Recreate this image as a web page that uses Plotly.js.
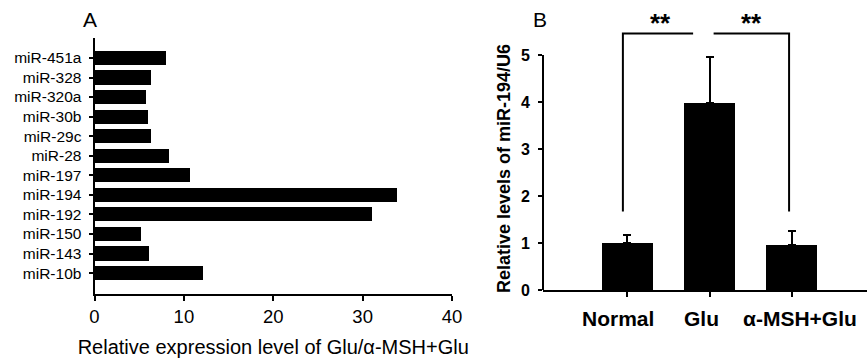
<!DOCTYPE html>
<html><head><meta charset="utf-8">
<script src="https://cdn.plot.ly/plotly-3.0.1.min.js"></script>
<style>html,body{margin:0;padding:0;background:#fff}#chart{width:867px;height:362px}</style>
</head><body><div id="chart"></div>
<script>
// ---- Data ----
const mirnas = ['miR-451a','miR-328','miR-320a','miR-30b','miR-29c','miR-28','miR-197','miR-194','miR-192','miR-150','miR-143','miR-10b'];
const foldChange = [7.96, 6.32, 5.76, 6.02, 6.32, 8.33, 10.7, 33.9, 31.1, 5.2, 6.06, 12.1];
const xTicksA = [0, 10, 20, 30, 40];

const groups = ['Normal', 'Glu', 'α-MSH+Glu'];
const mir194Levels = [1.0, 3.98, 0.95];
const mir194Err = [0.18, 0.97, 0.30];
const yTicksB = [0, 1, 2, 3, 4, 5];
const sigLabels = ['**', '**'];

// ---- Styling ----
const FONT = 'Liberation Sans, Arial, sans-serif';
const BLACK = '#000';
const W = 867, H = 362;

const traces = [
  {
    type: 'bar', orientation: 'h',
    x: foldChange, y: mirnas,
    xaxis: 'x', yaxis: 'y',
    marker: {color: BLACK, line: {width: 0}},
    width: 0.72,
    hoverinfo: 'skip'
  },
  {
    type: 'bar',
    x: groups, y: mir194Levels,
    xaxis: 'x2', yaxis: 'y2',
    marker: {color: BLACK, line: {width: 0}},
    width: 0.62,
    error_y: {type: 'data', symmetric: false, array: mir194Err, arrayminus: mir194Err.map(() => 0),
              color: BLACK, thickness: 2, width: 4},
    hoverinfo: 'skip'
  }
];

// significance brackets derived from the data
const topB = Math.max(...mir194Levels.map((v, i) => v + mir194Err[i]));
const brY = topB + 0.51;
const legY = 1.67;
const line = {color: BLACK, width: 2};
const shapes = [
  // y axis line of panel B (stops at the top tick)
  {type: 'line', xref: 'x2 domain', yref: 'y2', x0: 0, x1: 0, y0: 0, y1: yTicksB[yTicksB.length - 1], line: line},
  // left bracket
  {type: 'path', xref: 'x2', yref: 'y2', path: `M -0.056 ${legY} L -0.056 ${brY} L 0.80 ${brY}`, line: line},
  // right bracket
  {type: 'path', xref: 'x2', yref: 'y2', path: `M 1.05 ${brY} L 1.97 ${brY} L 1.97 ${legY}`, line: line}
];

const catShift = [-0.12, -0.10, 0.10];
const annotations = [
  {text: 'A', xref: 'paper', yref: 'paper', x: 90 / W, y: 1 - 19 / H, showarrow: false,
   font: {family: FONT, size: 21, color: BLACK}, xanchor: 'center', yanchor: 'middle'},
  {text: 'B', xref: 'paper', yref: 'paper', x: 540 / W, y: 1 - 19 / H, showarrow: false,
   font: {family: FONT, size: 21, color: BLACK}, xanchor: 'center', yanchor: 'middle'},
  {text: sigLabels[0], xref: 'x2', yref: 'paper', x: 0.40, y: 1 - 23 / H, showarrow: false,
   font: {family: FONT, size: 26, color: BLACK, weight: 'bold'}, xanchor: 'center', yanchor: 'middle'},
  {text: sigLabels[1], xref: 'x2', yref: 'paper', x: 1.51, y: 1 - 23 / H, showarrow: false,
   font: {family: FONT, size: 26, color: BLACK, weight: 'bold'}, xanchor: 'center', yanchor: 'middle'},
  {text: 'Relative levels of miR-194/U6', xref: 'paper', yref: 'paper', x: 504 / W, y: 1 - 169 / H,
   textangle: -90, showarrow: false, xanchor: 'center', yanchor: 'middle',
   font: {family: FONT, size: 18, color: BLACK, weight: 'bold'}}
].concat(groups.map((g, i) => ({
  text: g, xref: 'x2', yref: 'paper', x: i + catShift[i], y: 1 - 318 / H, showarrow: false,
  xanchor: 'center', yanchor: 'middle',
  font: {family: FONT, size: 21, color: BLACK, weight: 'bold'}
})));

const layout = {
  width: W, height: H,
  margin: {l: 0, r: 0, t: 0, b: 0, pad: 0},
  paper_bgcolor: '#fff', plot_bgcolor: 'rgba(0,0,0,0)',
  showlegend: false,
  font: {family: FONT, color: BLACK},
  bargap: 0,
  xaxis: {
    domain: [94.5 / W, 452 / W], anchor: 'y',
    range: [0, 40], tickvals: xTicksA, ticktext: xTicksA.map(String),
    showline: true, linecolor: BLACK, linewidth: 2,
    ticks: 'outside', ticklen: 5, tickwidth: 2, tickcolor: BLACK,
    showgrid: false, zeroline: false, automargin: false,
    tickfont: {family: FONT, size: 18.5, color: BLACK},
    title: {text: 'Relative expression level of Glu/α-MSH+Glu', font: {family: FONT, size: 20, color: BLACK}, standoff: 14}
  },
  yaxis: {
    domain: [1 - 294 / H, 1 - 38 / H], anchor: 'x',
    type: 'category', categoryorder: 'array', categoryarray: mirnas,
    range: [12.07, -1.02],
    showline: true, linecolor: BLACK, linewidth: 2,
    ticks: 'outside', ticklen: 4, tickwidth: 2, tickcolor: BLACK, ticklabelstandoff: 4,
    showgrid: false, zeroline: false, automargin: false,
    tickfont: {family: FONT, size: 15.5, color: BLACK}
  },
  xaxis2: {
    domain: [543 / W, 1], anchor: 'y2',
    type: 'category', categoryorder: 'array', categoryarray: groups,
    range: [-1.03, 2.92],
    showline: true, linecolor: BLACK, linewidth: 2,
    ticks: 'outside', ticklen: 5, tickwidth: 2, tickcolor: BLACK,
    showticklabels: false,
    showgrid: false, zeroline: false, automargin: false
  },
  yaxis2: {
    domain: [1 - 290 / H, 1 - 31.5 / H], anchor: 'x2',
    range: [0, 5.5], tickvals: yTicksB, ticktext: yTicksB.map(String),
    showline: false,
    ticks: 'outside', ticklen: 4, tickwidth: 2, tickcolor: BLACK, ticklabelstandoff: 5,
    showgrid: false, zeroline: false, automargin: false,
    tickfont: {family: FONT, size: 16, color: BLACK, weight: 'bold'}
  },
  shapes: shapes,
  annotations: annotations
};

Plotly.newPlot('chart', traces, layout, {staticPlot: true, displayModeBar: false});
</script>
</body></html>
